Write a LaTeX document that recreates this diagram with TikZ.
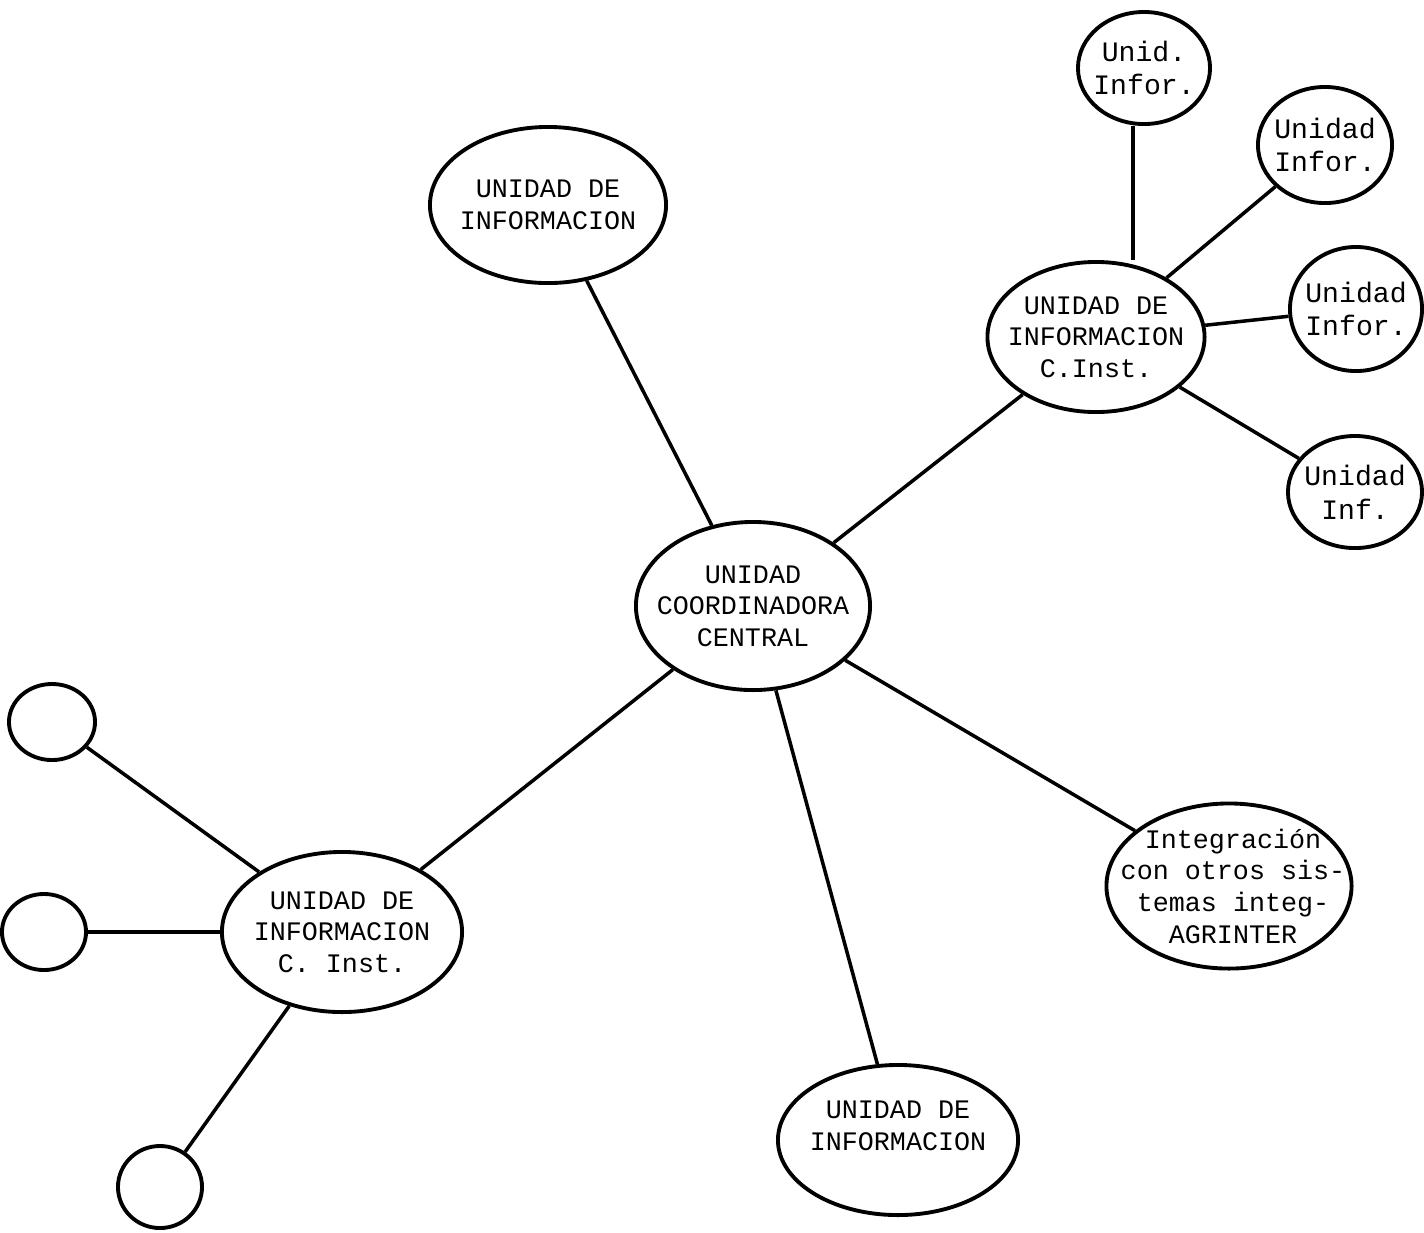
\documentclass[tikz,border=0pt]{standalone}
\usepackage{fontspec}
\setmonofont{Liberation Mono}
\usetikzlibrary{shapes.geometric}
\begin{document}
\begin{tikzpicture}[x=0.01cm,y=-0.01cm,
  caption/.style={inner sep=0pt,align=center,
    font=\ttfamily\fontsize{7.6}{9}\selectfont},
  smallcaption/.style={caption,font=\ttfamily\fontsize{8}{9.6}\selectfont},
  leaf/.style={ellipse,draw,line width=1.1pt,inner sep=0pt},
  unit/.style 2 args={leaf,minimum width=#1,minimum height=#2},
  link/.style={line width=1pt}]
\useasboundingbox[fill=white] (0,0) rectangle (1424,1232);

% central coordinating unit
\node[unit={2.34cm}{1.68cm},label={[caption]center:UNIDAD\\COORDINADORA\\CENTRAL}]
  (cen) at (753,606) {};

% first-level units
\node[unit={2.36cm}{1.56cm},label={[caption]center:UNIDAD DE\\INFORMACION}]
  (top) at (548,205) {};
\node[unit={2.17cm}{1.5cm},label={[caption]center:UNIDAD DE\\INFORMACION\\C.Inst.}]
  (rin) at (1096,337) {};
\node[unit={2.45cm}{1.65cm},label={[caption,xshift=0.04cm]center:Integración\\con otros sis-\\temas integ-\\AGRINTER}]
  (agr) at (1229,886) {};
\node[unit={2.4cm}{1.5cm},label={[caption,yshift=0.14cm]center:UNIDAD DE\\INFORMACION}]
  (bot) at (898,1140) {};
\node[unit={2.4cm}{1.6cm},label={[caption]center:UNIDAD DE\\INFORMACION\\C. Inst.}]
  (lin) at (342,932) {};

% units attached to the right institutional unit
\node[unit={1.32cm}{1.12cm},label={[smallcaption]center:Unid.\\Infor.}] (r1) at (1144,68) {};
\node[unit={1.34cm}{1.16cm},label={[smallcaption]center:Unidad\\Infor.}] (r2) at (1325,145) {};
\node[unit={1.32cm}{1.24cm},label={[smallcaption]center:Unidad\\Infor.}] (r3) at (1356,309) {};
\node[unit={1.34cm}{1.12cm},label={[smallcaption]center:Unidad\\Inf.}] (r4) at (1355,492) {};

% empty units attached to the left institutional unit
\node[unit={0.86cm}{0.76cm}] (l1) at (52,722) {};
\node[unit={0.84cm}{0.76cm}] (l2) at (44,932) {};
\node[unit={0.84cm}{0.82cm}] (l3) at (160,1187) {};

% foot of the vertical link under the top small unit
\coordinate (r1foot) at ([xshift=-0.11cm]r1.south);

% connectors
\draw[link] (top) -- (cen);
\draw[link] (cen) -- (rin);
\draw[link] (cen) -- (agr);
\draw[link] (cen) -- (bot);
\draw[link] (cen) -- (lin);
\draw[link] (r1foot) -- (r1foot |- rin.north);
\draw[link] (rin) -- (r2);
\draw[link] (rin) -- (r3);
\draw[link] (rin) -- (r4);
\draw[link] (lin) -- (l1);
\draw[link] (lin) -- (l2);
\draw[link] (lin) -- (l3);
\end{tikzpicture}
\end{document}
